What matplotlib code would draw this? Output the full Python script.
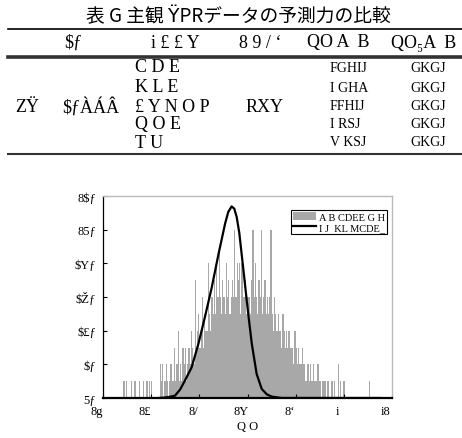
import numpy as np
import matplotlib
matplotlib.use("Agg")
import matplotlib.pyplot as plt
from matplotlib.lines import Line2D
from matplotlib.transforms import ScaledTranslation

# Title and table text (kept as shown in the source picture)
title = "表 G 主観 ŸPRデータの予測力の比較"
headers = [r"\$ƒ", "i £ £ Y", "8 9 / ʻ", "QO A  B", "QO₅A  B"]
row_group = "ZŸ"
row_name = r"\$ƒÀÁÂ"
row_items = ["C D E", "K L E", "£ Y N O P", "Q O E", "T U"]
row_method = "RXY"
col_a = ["FGHIJ", "I GHA", "FFHIJ", "I RSJ", "V KSJ"]
col_b = ["GKGJ", "GKGJ", "GKGJ", "GKGJ", "GKGJ"]

# Histogram counts, one per bin
hist_counts = [
    1, 0, 1, 0, 0, 0, 1, 0, 0, 1,
    0, 0, 0, 1, 0, 0, 1, 0, 0, 1,
    0, 1, 0, 1, 0, 0, 0, 0, 0, 0,
    2, 1, 2, 0, 1, 2, 1, 0, 1, 2,
    1, 1, 3, 1, 2, 4, 1, 2, 1, 3,
    2, 3, 1, 2, 3, 2, 4, 3, 2, 7,
    3, 4, 5, 3, 4, 6, 3, 5, 4, 4,
    8, 5, 4, 6, 5, 7, 5, 8, 6, 9,
    6, 5, 7, 6, 5, 8, 6, 7, 5, 6,
    7, 6, 10, 6, 8, 7, 8, 5, 8, 6,
    6, 7, 5, 6, 6, 5, 7, 10, 6, 8,
    6, 5, 7, 6, 10, 5, 6, 7, 5, 6,
    5, 6, 10, 5, 4, 6, 5, 4, 5, 4,
    4, 3, 5, 4, 3, 4, 3, 4, 3, 3,
    3, 2, 4, 3, 2, 3, 2, 2, 3, 2,
    2, 1, 2, 2, 1, 2, 1, 2, 1, 1,
    1, 2, 1, 1, 0, 1, 1, 1, 0, 1,
    1, 0, 1, 1, 0, 1, 0, 0, 2, 0,
    1, 0, 1, 1, 0, 0, 0, 0, 0, 0,
    0, 0, 0, 0, 0, 0, 0, 0, 0, 0,
    0, 0, 0, 0, 1, 0,
]
bin_start = 10.85
bin_width = 0.05

# Fitted curve
curve_x = [12.30, 12.44, 12.70, 12.99, 13.20, 13.40, 13.68, 13.96, 14.24, 14.51,
           14.79, 15.07, 15.20, 15.34, 15.45, 15.55, 15.66, 15.76, 15.87, 15.97,
           16.08, 16.18, 16.38, 16.59, 16.80, 17.01, 17.42, 21.50]
curve_y = [0.0, 0.01, 0.05, 0.14, 0.50, 1.03, 1.82, 3.21, 4.86, 6.53,
           8.51, 10.36, 11.05, 11.38, 11.25, 10.76, 9.80, 8.51, 7.10, 5.77,
           4.40, 3.21, 1.43, 0.54, 0.22, 0.08, 0.0, 0.0]

xtick_vals = [10, 12, 14, 16, 18, 20, 22]
xtick_labels = ["8g", "8£", "8/", "8Y", "8ʻ", "i", "i8"]
ytick_vals = [0, 2, 4, 6, 8, 10, 12]
ytick_labels = ["5ƒ", r"\$ƒ", r"\$£ƒ", r"\$Žƒ", r"\$Yƒ", "85ƒ", r"8\$ƒ"]
xlabel = "Q O"
legend_labels = ["A B CDEE G H", "I J  KL MCDE_"]

W, H = 462, 439
serif = ["Liberation Serif", "DejaVu Serif"]


def fx(px):
    return px / W


def fy(py):
    return 1 - py / H


fig = plt.figure(figsize=(W / 100, H / 100), dpi=100)

# ---- table part ----
fig.text(fx(238), fy(17), title, ha="center", va="center", fontsize=13.5,
         family=["Noto Sans CJK JP", "DejaVu Sans"])
fig.add_artist(Line2D([fx(8), 1], [fy(30), fy(30)], color="black", lw=1.2))
fig.add_artist(Line2D([fx(8), 1], [fy(58), fy(58)], color="#333333", lw=2.6))
fig.add_artist(Line2D([fx(8), 1], [fy(155), fy(155)], color="#333333", lw=1.5))

header_x = [73, 175, 260, 338, 424]
for hx, h in zip(header_x, headers):
    fig.text(fx(hx), fy(43), h, ha="center", va="center", fontsize=13, family=serif)

row_y = [68, 88, 107, 125, 143]
fig.text(fx(27), fy(107), row_group, ha="center", va="center", fontsize=13, family=serif)
fig.text(fx(91), fy(107), row_name, ha="center", va="center", fontsize=13, family=serif)
fig.text(fx(265), fy(107), row_method, ha="center", va="center", fontsize=13, family=serif)
for ry, item, a, b in zip(row_y, row_items, col_a, col_b):
    fig.text(fx(135), fy(ry), item, ha="left", va="center", fontsize=13, family=serif)
    fig.text(fx(330), fy(ry), a, ha="left", va="center", fontsize=10, family=serif)
    fig.text(fx(410), fy(ry), b, ha="left", va="center", fontsize=10, family=serif)

# ---- histogram part ----
ax = fig.add_axes([103 / W, 1 - 399 / H, 289 / W, 202 / H])
centers = bin_start + bin_width * (np.arange(len(hist_counts)) + 0.5)
bars = ax.bar(centers, hist_counts, width=bin_width, color="#a8a8a8", linewidth=0)
line, = ax.plot(curve_x, curve_y, color="black", lw=1.6)

ax.set_xlim(10, 22)
ax.set_ylim(0, 12)
ax.set_xticks(xtick_vals)
ax.set_yticks(ytick_vals)
ax.set_xticklabels(xtick_labels, fontsize=9, family=serif)
ax.set_yticklabels(ytick_labels, fontsize=9, family=serif)
ax.set_xlabel(xlabel, fontsize=9, family=serif, labelpad=2)
ax.tick_params(direction="in", length=3, width=0.8, pad=5, top=False, right=False)

for s in ["top", "right"]:
    ax.spines[s].set_color("#bbbbbb")
    ax.spines[s].set_linewidth(1.0)
ax.spines["left"].set_linewidth(0.9)
ax.spines["bottom"].set_linewidth(1.6)

leg = ax.legend([bars, line], legend_labels, loc="upper right",
                bbox_to_anchor=(0.983, 0.93),
                prop={"family": serif, "size": 7.5}, frameon=True, fancybox=False,
                edgecolor="black", framealpha=1, borderpad=0.2, labelspacing=0.1,
                handlelength=2.2, handletextpad=0.3, borderaxespad=0)
leg.get_frame().set_linewidth(0.8)

# labels in the source sit a bit left of their ticks
shift = ScaledTranslation(-6 / 100, 0, fig.dpi_scale_trans)
for lab in ax.get_xticklabels():
    lab.set_transform(lab.get_transform() + shift)

fig.savefig("out.png", dpi=100)
